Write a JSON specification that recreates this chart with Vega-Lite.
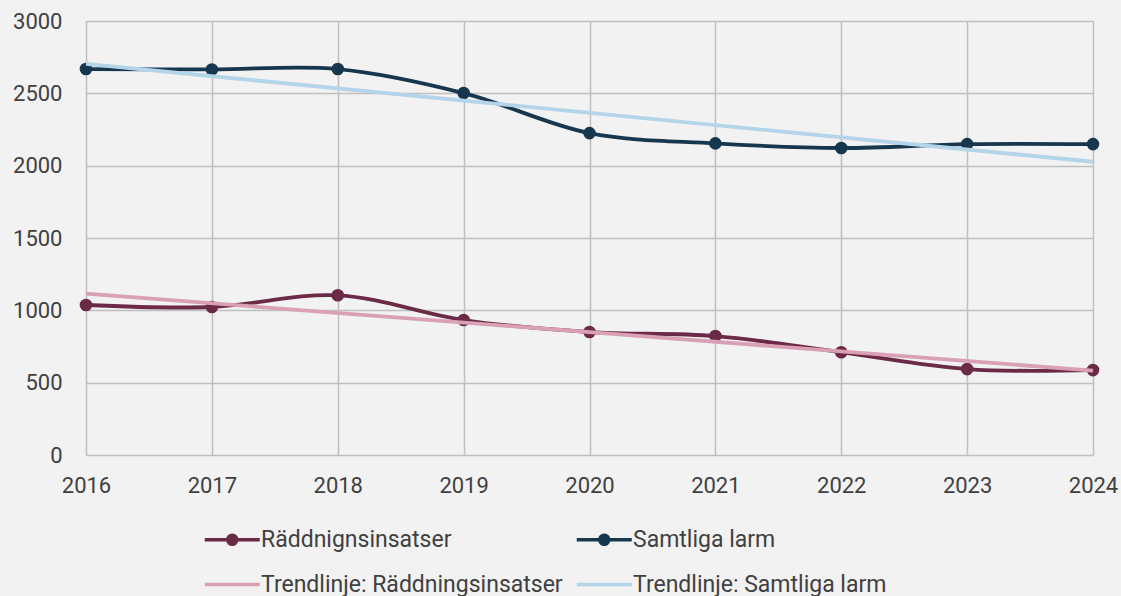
{
  "$schema": "https://vega.github.io/schema/vega-lite/v6.json",
  "autosize": "none",
  "width": 1007,
  "height": 434,
  "padding": {"left": 86, "top": 21, "right": 28, "bottom": 141},
  "background": "#f2f2f2",
  "config": {
    "view": {"stroke": null},
    "font": "Roboto",
    "axis": {
      "labelFont": "Roboto",
      "labelFontSize": 22,
      "labelColor": "#404040",
      "gridColor": "#bfbfbf",
      "gridWidth": 1.5,
      "gridOpacity": 1,
      "domain": false,
      "ticks": false,
      "title": null
    }
  },
  "data": {
    "values": [
      {"year": 2016, "series": "Räddnignsinsatser", "kind": "data", "value": 1037},
      {"year": 2017, "series": "Räddnignsinsatser", "kind": "data", "value": 1023},
      {"year": 2018, "series": "Räddnignsinsatser", "kind": "data", "value": 1104},
      {"year": 2019, "series": "Räddnignsinsatser", "kind": "data", "value": 933},
      {"year": 2020, "series": "Räddnignsinsatser", "kind": "data", "value": 850},
      {"year": 2021, "series": "Räddnignsinsatser", "kind": "data", "value": 822},
      {"year": 2022, "series": "Räddnignsinsatser", "kind": "data", "value": 710},
      {"year": 2023, "series": "Räddnignsinsatser", "kind": "data", "value": 594},
      {"year": 2024, "series": "Räddnignsinsatser", "kind": "data", "value": 587},
      {"year": 2016, "series": "Samtliga larm", "kind": "data", "value": 2668},
      {"year": 2017, "series": "Samtliga larm", "kind": "data", "value": 2665},
      {"year": 2018, "series": "Samtliga larm", "kind": "data", "value": 2668},
      {"year": 2019, "series": "Samtliga larm", "kind": "data", "value": 2502},
      {"year": 2020, "series": "Samtliga larm", "kind": "data", "value": 2225},
      {"year": 2021, "series": "Samtliga larm", "kind": "data", "value": 2154},
      {"year": 2022, "series": "Samtliga larm", "kind": "data", "value": 2122},
      {"year": 2023, "series": "Samtliga larm", "kind": "data", "value": 2149},
      {"year": 2024, "series": "Samtliga larm", "kind": "data", "value": 2149},
      {"year": 2016, "series": "Trendlinje: Räddningsinsatser", "kind": "trend", "value": 1115},
      {"year": 2024, "series": "Trendlinje: Räddningsinsatser", "kind": "trend", "value": 583},
      {"year": 2016, "series": "Trendlinje: Samtliga larm", "kind": "trend", "value": 2703},
      {"year": 2024, "series": "Trendlinje: Samtliga larm", "kind": "trend", "value": 2027}
    ]
  },
  "encoding": {
    "x": {
      "field": "year",
      "type": "quantitative",
      "scale": {"domain": [2016, 2024], "nice": false, "zero": false},
      "axis": {"values": [2016, 2017, 2018, 2019, 2020, 2021, 2022, 2023, 2024], "format": "d", "labelPadding": 20, "labelFlush": false}
    },
    "y": {
      "field": "value",
      "type": "quantitative",
      "scale": {"domain": [0, 3000], "nice": false},
      "axis": {"values": [0, 500, 1000, 1500, 2000, 2500, 3000], "format": "d", "labelPadding": 24, "labelBaseline": "middle"}
    },
    "color": {
      "field": "series",
      "type": "nominal",
      "scale": {
        "domain": ["Räddnignsinsatser", "Samtliga larm", "Trendlinje: Räddningsinsatser", "Trendlinje: Samtliga larm"],
        "range": ["#6b2a45", "#17374f", "#d9a0b6", "#b4d4ea"]
      },
      "legend": {
        "orient": "none",
        "direction": "horizontal",
        "legendX": 117,
        "legendY": 503,
        "columns": 2,
        "title": null,
        "labelFont": "Roboto",
        "labelFontSize": 23,
        "labelColor": "#404040",
        "labelLimit": 500,
        "labelOffset": 27,
        "symbolSize": 756,
        "symbolOpacity": 1,
        "rowPadding": 17,
        "columnPadding": 6,
        "encode": {
          "symbols": {
            "update": {
              "shape": {"signal": "(datum.value == 'Räddnignsinsatser' || datum.value == 'Samtliga larm') ? 'M-1,0L3,0M1.33,0A0.33,0.33,0,1,1,0.67,0A0.33,0.33,0,1,1,1.33,0Z' : 'M-1,0L3,0'"},
              "fill": {"scale": "color", "field": "value"},
              "stroke": {"scale": "color", "field": "value"},
              "strokeWidth": {"value": 3.5},
              "opacity": {"value": 1}
            }
          }
        }
      }
    }
  },
  "layer": [
    {
      "transform": [{"filter": "datum.kind == 'data'"}],
      "mark": {"type": "line", "interpolate": "catmull-rom", "strokeWidth": 3.8}
    },
    {
      "transform": [{"filter": "datum.kind == 'data'"}],
      "mark": {"type": "point", "filled": true, "size": 160, "opacity": 1}
    },
    {
      "transform": [{"filter": "datum.kind == 'trend'"}],
      "mark": {"type": "line", "strokeWidth": 3.8}
    }
  ]
}
